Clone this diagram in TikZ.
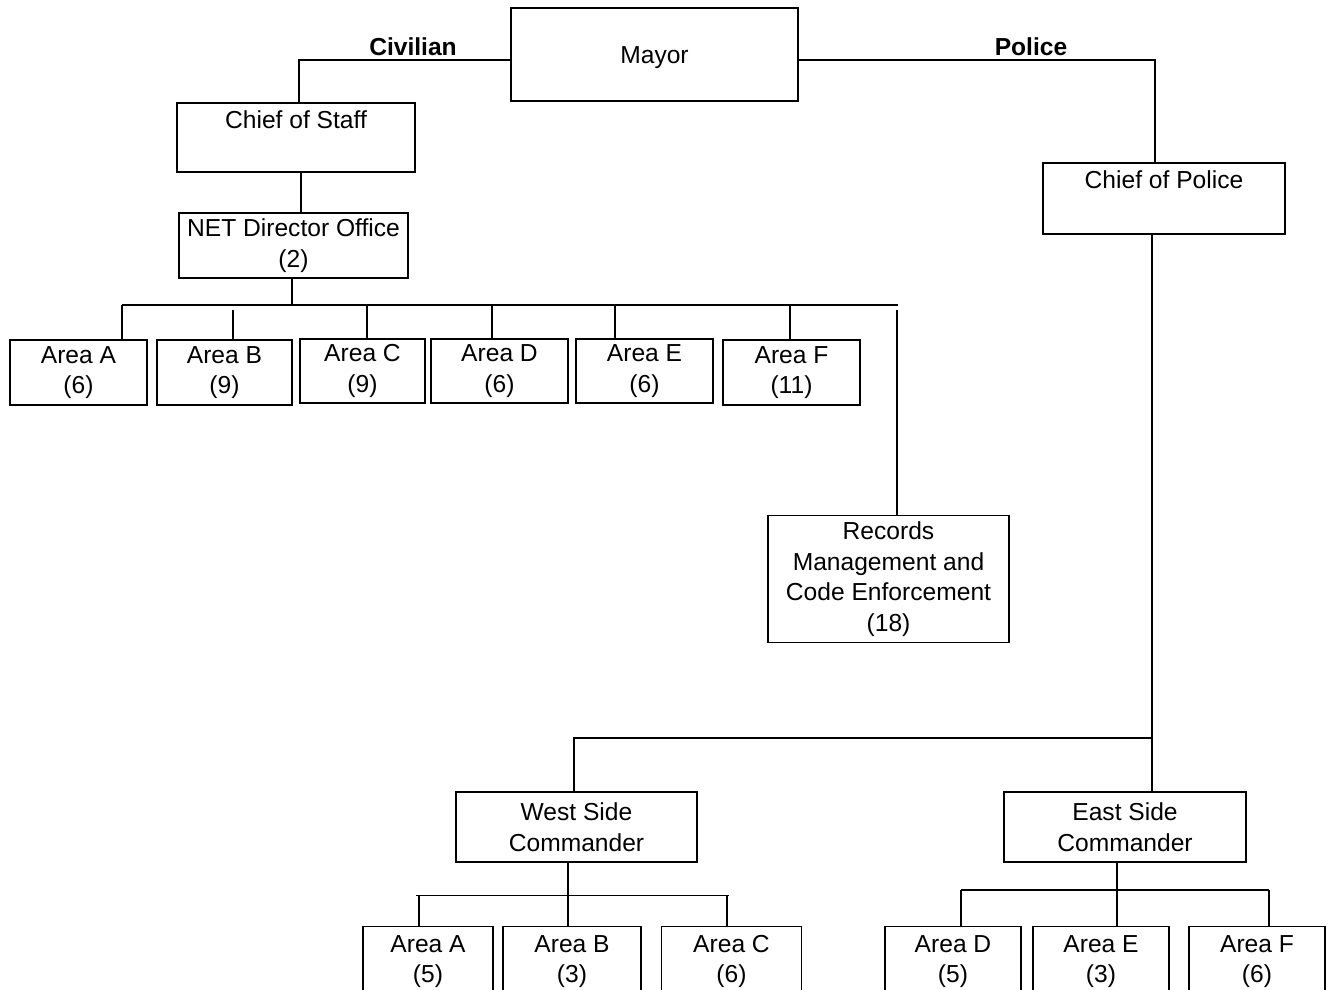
\documentclass[tikz,border=0pt]{standalone}
\usepackage{fontspec}
\setmainfont{Liberation Sans}
\begin{document}
\begin{tikzpicture}[x=1pt,y=-1pt,
  box/.style={draw,line width=1.4pt,rectangle,inner sep=0pt,align=center,
    font=\fontsize{24.6}{30.5}\selectfont},
  toplbl/.style={anchor=north,inner sep=0pt,yshift=-8pt,font=\fontsize{24.6}{30.5}\selectfont},
  conn/.style={line width=1.4pt},
  branch/.style={font=\fontsize{24.6}{30}\selectfont\bfseries,inner sep=0pt}]
\path[fill=white] (0,0) rectangle (1336,990);
\useasboundingbox (0,0) rectangle (1336,990);
% top level
\node[box,minimum width=287,minimum height=93,text depth=0pt,text height=18pt] (mayor) at (654.5,54.5) {Mayor};
\node[box,minimum width=238,minimum height=69,label={[toplbl]north:Chief of Staff}] (cos) at (296,137.5) {};
\node[box,minimum width=242,minimum height=71,label={[toplbl]north:Chief of Police}] (cop) at (1164,198.5) {};
\node[branch] (civ) at (413,47) {Civilian};
\node[branch] (pol) at (1031,47) {Police};
\node[box,minimum width=229,minimum height=65] (net) at (293.5,245.5) {NET Director Office\\(2)};
% civilian areas
\node[box,minimum width=137,minimum height=65] (aA) at (78.5,372.5) {Area A\\(6)};
\node[box,minimum width=135,minimum height=65] (aB) at (224.5,372.5) {Area B\\(9)};
\node[box,minimum width=125,minimum height=64] (aC) at (362.5,371) {Area C\\(9)};
\node[box,minimum width=137,minimum height=64] (aD) at (499.5,371) {Area D\\(6)};
\node[box,minimum width=137,minimum height=64] (aE) at (644.5,371) {Area E\\(6)};
\node[box,minimum width=137,minimum height=65] (aF) at (791.5,372.5) {Area F\\(11)};
\node[box,minimum width=241,minimum height=127] (rec) at (888.5,579) {Records\\Management and\\Code Enforcement\\(18)};
% police
\node[box,minimum width=241,minimum height=70] (wsc) at (576.5,827) {West Side\\Commander};
\node[box,minimum width=242,minimum height=70] (esc) at (1125,827) {East Side\\Commander};
\node[box,minimum width=130,minimum height=70] (wA) at (428,961.5) {Area A\\(5)};
\node[box,minimum width=138,minimum height=70] (wB) at (572,961.5) {Area B\\(3)};
\node[box,minimum width=140,minimum height=70] (wC) at (731.5,961.5) {Area C\\(6)};
\node[box,minimum width=136,minimum height=70] (eD) at (953,961.5) {Area D\\(5)};
\node[box,minimum width=136,minimum height=70] (eE) at (1101,961.5) {Area E\\(3)};
\node[box,minimum width=136,minimum height=70] (eF) at (1257,961.5) {Area F\\(6)};
% connectors civilian
\draw[conn] (mayor.west |- 0,60) -| (cos.north -| 299,0);
\draw[conn] (mayor.east |- 0,60) -| (cop.north -| 1155,0);
\draw[conn] (cos.south -| 301,0) -- (net.north -| 301,0);
\draw[conn] (net.south -| 292,0) -- (292,305);
\draw[conn] (122,305) -- (898,305);
\draw[conn] (122,305) -- (aA.north -| 122,0);
\draw[conn] (233,310) -- (aB.north -| 233,0);
\draw[conn] (367,305) -- (aC.north -| 367,0);
\draw[conn] (492,305) -- (aD.north -| 492,0);
\draw[conn] (615,305) -- (aE.north -| 615,0);
\draw[conn] (790,305) -- (aF.north -| 790,0);
\draw[conn] (897,310) -- (rec.north -| 897,0);
% connectors police
\draw[conn] (cop.south -| 1152,0) -- (1152,738);
\draw[conn] (1152,738) -| (wsc.north -| 574,0);
\draw[conn] (1152,738) -- (esc.north -| 1152,0);
\draw[conn] (wsc.south -| 568,0) -- (wB.north -| 568,0);
\draw[conn] (416,895.5) -- (729,895.5);
\draw[conn] (419,895.5) -- (wA.north -| 419,0);
\draw[conn] (727,895.5) -- (wC.north -| 727,0);
\draw[conn] (esc.south -| 1117,0) -- (eE.north -| 1117,0);
\draw[conn] (961,890) -- (1269,890);
\draw[conn] (961,890) -- (eD.north -| 961,0);
\draw[conn] (1269,890) -- (eF.north -| 1269,0);
\end{tikzpicture}
\end{document}
